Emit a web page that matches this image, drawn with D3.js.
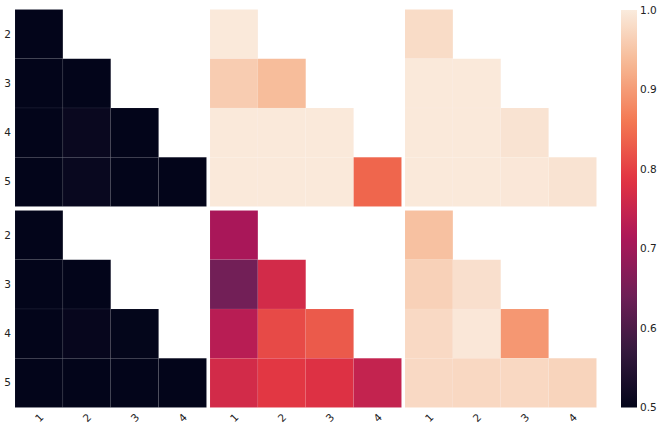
<!DOCTYPE html>
<html>
<head>
<meta charset="utf-8">
<script src="https://cdn.jsdelivr.net/npm/d3@7"></script>
<style>
  html, body { margin: 0; padding: 0; background: #fff; }
  svg { display: block; font-family: "DejaVu Sans", sans-serif; }
</style>
</head>
<body>
<svg id="chart" width="664" height="429"></svg>
<script>
// ---- data ----
const xCategories = ["1", "2", "3", "4"];
const yCategories = ["2", "3", "4", "5"];
const colorbarTicks = [0.5, 0.6, 0.7, 0.8, 0.9, 1.0];

// lower-triangular matrices (row i has i+1 values)
const panelTopLeft = [
  [0.500],
  [0.500, 0.500],
  [0.500, 0.510, 0.500],
  [0.500, 0.509, 0.500, 0.500]
];
const panelTopMiddle = [
  [0.997],
  [0.960, 0.940],
  [0.997, 0.997, 0.997],
  [0.997, 0.997, 0.997, 0.840]
];
const panelTopRight = [
  [0.980],
  [0.997, 0.997],
  [0.997, 0.997, 0.990],
  [0.997, 0.997, 0.995, 0.990]
];
const panelBottomLeft = [
  [0.500],
  [0.500, 0.500],
  [0.500, 0.505, 0.502],
  [0.500, 0.500, 0.500, 0.500]
];
const panelBottomMiddle = [
  [0.710],
  [0.645, 0.765],
  [0.730, 0.810, 0.827],
  [0.765, 0.790, 0.780, 0.745]
];
const panelBottomRight = [
  [0.945],
  [0.966, 0.985],
  [0.977, 0.995, 0.895],
  [0.977, 0.975, 0.975, 0.970]
];
const panels = [
  [panelTopLeft, panelTopMiddle, panelTopRight],
  [panelBottomLeft, panelBottomMiddle, panelBottomRight]
];

// rocket colormap stops
const rocketPos = [0, 1/7, 2/7, 3/7, 4/7, 5/7, 6/7, 1];
const rocketCols = ["#03051a", "#35193e", "#701f57", "#ad1759", "#e13342", "#f37651", "#f6b48f", "#faebdd"];
const rocket = d3.scaleLinear().domain(rocketPos).range(rocketCols).interpolate(d3.interpolateRgb).clamp(true);
const norm = d3.scaleLinear().domain([0.5, 1.0]).range([0, 1]).clamp(true);
const color = v => rocket(norm(v));

// ---- layout ----
const svg = d3.select("#chart");
const panelX0 = [15, 210, 405];
const panelY0 = [9.5, 210.5];
const panelW = 191.5, panelH = 197;

const x = d3.scaleBand().domain(xCategories).range([0, panelW]);
const y = d3.scaleBand().domain(yCategories).range([0, panelH]);

panels.forEach((row, ri) => {
  row.forEach((mat, ci) => {
    const g = svg.append("g").attr("transform", `translate(${panelX0[ci]},${panelY0[ri]})`);
    const cells = [];
    mat.forEach((vals, i) => vals.forEach((v, j) => cells.push({r: yCategories[i], c: xCategories[j], v})));
    g.selectAll("rect").data(cells).join("rect")
      .attr("x", d => x(d.c))
      .attr("y", d => y(d.r))
      .attr("width", x.bandwidth())
      .attr("height", y.bandwidth())
      .attr("fill", d => color(d.v))
      .attr("stroke", "#ffffff")
      .attr("stroke-opacity", 0.1)
      .attr("stroke-width", 0.6);

    if (ci === 0) {
      const ay = d3.axisLeft(y).tickSize(0).tickPadding(4);
      const ag = g.append("g").call(ay);
      ag.select(".domain").remove();
      ag.selectAll("text").attr("font-size", 10.5).attr("fill", "#222").attr("font-family", "DejaVu Sans");
    }
    if (ri === 1) {
      const ax = d3.axisBottom(x).tickSize(0).tickPadding(0);
      const ag = g.append("g").attr("transform", `translate(0,${panelH})`).call(ax);
      ag.select(".domain").remove();
      ag.selectAll("text")
        .attr("font-size", 10.5).attr("fill", "#222").attr("font-family", "DejaVu Sans")
        .attr("dy", null).attr("y", 0)
        .attr("text-anchor", "middle")
        .attr("dominant-baseline", "central")
        .attr("transform", "translate(0,10) rotate(-45)");
    }
  });
});

// ---- colorbar ----
const cbX = 621, cbW = 16, cbTop = 10, cbBottom = 407.5;
const defs = svg.append("defs");
const grad = defs.append("linearGradient").attr("id", "cbgrad")
  .attr("x1", 0).attr("y1", 1).attr("x2", 0).attr("y2", 0);
d3.range(0, 1.0001, 0.02).forEach(t => {
  grad.append("stop").attr("offset", t).attr("stop-color", rocket(t));
});
svg.append("rect").attr("x", cbX).attr("y", cbTop).attr("width", cbW)
  .attr("height", cbBottom - cbTop).attr("fill", "url(#cbgrad)");
const cbScale = d3.scaleLinear().domain([0.5, 1.0]).range([cbBottom, cbTop]);
const cbAxis = d3.axisRight(cbScale).tickValues(colorbarTicks).tickFormat(d3.format(".1f")).tickSize(0).tickPadding(3);
const cbg = svg.append("g").attr("transform", `translate(${cbX + cbW},0)`).call(cbAxis);
cbg.select(".domain").remove();
cbg.selectAll("text").attr("font-size", 10.5).attr("fill", "#222").attr("font-family", "DejaVu Sans");
</script>
</body>
</html>
